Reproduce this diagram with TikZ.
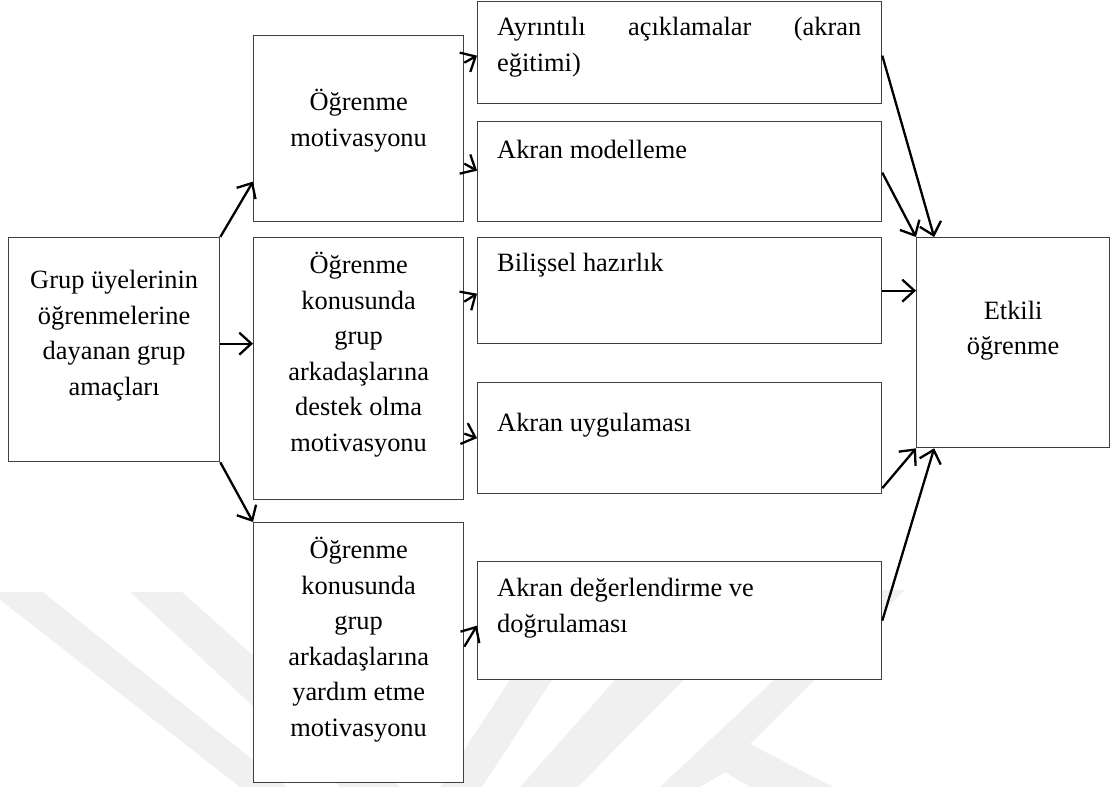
\documentclass[tikz,border=0pt]{standalone}
\usepackage{fontspec}
\setmainfont{Liberation Serif}
\usetikzlibrary{arrows.meta}

\tikzset{
  kutu/.style={draw=black!75, line width=1.3pt, fill=white, inner sep=0pt, anchor=north west},
  yazi/.style={font=\fontsize{26.4}{35.6}\selectfont, align=center, inner sep=0pt},
  solyazi/.style={font=\fontsize{26.4}{35.6}\selectfont, align=left, inner sep=0pt},
  ok/.style={-{Straight Barb[length=12pt,width=22pt]}, line width=2.3pt},
  filigran/.style={fill=black!6, draw=none}
}

\begin{document}
\begin{tikzpicture}[x=1pt,y=-1pt]
\useasboundingbox (0,0) rectangle (1112,787);

% filigran (arka plan)
\fill[filigran] (-10,592) -- (43,592) -- (287,787) -- (240,787) -- cycle;
\fill[filigran] (130,592) -- (182,592) -- (400,787) -- (340,787) -- cycle;
\fill[filigran] (440,787) -- (482,787) -- (565,660) -- (523,660) -- cycle;
\fill[filigran] (520,787) -- (578,787) -- (700,663) -- (630,663) -- cycle;
\fill[filigran] (660,787) -- (700,787) -- (725,772) -- (750,787) -- (833,787)
  -- (750,744) -- (905,590) -- (870,590) -- cycle;

% kutular
\node[kutu, minimum width=211pt, minimum height=224pt] (amac) at (8,237) {};
\node[kutu, minimum width=210pt, minimum height=186pt] (mot1) at (253,35) {};
\node[kutu, minimum width=210pt, minimum height=262pt] (mot2) at (253,237) {};
\node[kutu, minimum width=210pt, minimum height=260pt] (mot3) at (253,522) {};
\node[kutu, minimum width=404pt, minimum height=102pt] (acik) at (477,1) {};
\node[kutu, minimum width=404pt, minimum height=100pt] (model) at (477,121) {};
\node[kutu, minimum width=404pt, minimum height=106pt] (haz) at (477,237) {};
\node[kutu, minimum width=404pt, minimum height=111pt] (uyg) at (477,382) {};
\node[kutu, minimum width=404pt, minimum height=118pt] (deg) at (477,561) {};
\node[kutu, minimum width=193pt, minimum height=210pt] (etkili) at (916,237) {};

% yazilar
\node[yazi] (amact) at ([yshift=14pt]amac.center)
  {Grup üyelerinin\\öğrenmelerine\\dayanan grup\\amaçları};
\node[yazi] (mot1t) at ([yshift=8pt]mot1.center) {Öğrenme\\motivasyonu};
\node[yazi] (mot2t) at ([yshift=14pt]mot2.center)
  {Öğrenme\\konusunda\\grup\\arkadaşlarına\\destek olma\\motivasyonu};
\node[yazi] (mot3t) at ([yshift=13pt]mot3.center)
  {Öğrenme\\konusunda\\grup\\arkadaşlarına\\yardım etme\\motivasyonu};
\node[yazi] (etkilit) at ([yshift=12pt]etkili.center) {Etkili\\öğrenme};

\node[solyazi, align=justify, text width=364pt, anchor=north west] (acikt)
  at ([shift={(20pt,-16pt)}]acik.north west)
  {Ayrıntılı açıklamalar (akran\linebreak eğitimi)};
\node[solyazi, anchor=base west] (modelt) at ([shift={(20pt,-37pt)}]model.north west) {Akran modelleme};
\node[solyazi, anchor=base west] (hazt) at ([shift={(20pt,-34pt)}]haz.north west) {Bilişsel hazırlık};
\node[solyazi, anchor=base west] (uygt) at ([shift={(20pt,-49pt)}]uyg.north west) {Akran uygulaması};
\node[solyazi, anchor=north west] (degt) at ([shift={(20pt,-17pt)}]deg.north west)
  {Akran değerlendirme ve\\doğrulaması};

% oklar
\draw[ok] (amac.north east) -- ([yshift=-53pt]mot1.west);
\draw[ok] ([yshift=6pt]amac.east) -- ([yshift=6pt]amac.east -| mot2.west);
\draw[ok] (amac.south east) -- (mot3.north west);

\draw[ok] ([yshift=66pt]mot1.east) -- ([yshift=-3pt]acik.west);
\draw[ok] ([yshift=-35pt]mot1.east) -- ([yshift=1pt]model.west);
\draw[ok] ([yshift=67pt]mot2.east) -- ([yshift=-3pt]haz.west);
\draw[ok] ([yshift=-65pt]mot2.east) -- (uyg.west);
\draw[ok] ([yshift=6pt]mot3.east) -- ([yshift=-5pt]deg.west);

\draw[ok] ([yshift=-3pt]acik.east) -- ([xshift=-79pt]etkili.north);
\draw[ok] ([yshift=-1pt]model.east) -- (etkili.north west);
\draw[ok] (haz.east) -- (haz.east -| etkili.west);
\draw[ok] ([yshift=-50pt]uyg.east) -- (etkili.south west);
\draw[ok] (deg.east) -- ([xshift=-79pt]etkili.south);
\end{tikzpicture}
\end{document}
